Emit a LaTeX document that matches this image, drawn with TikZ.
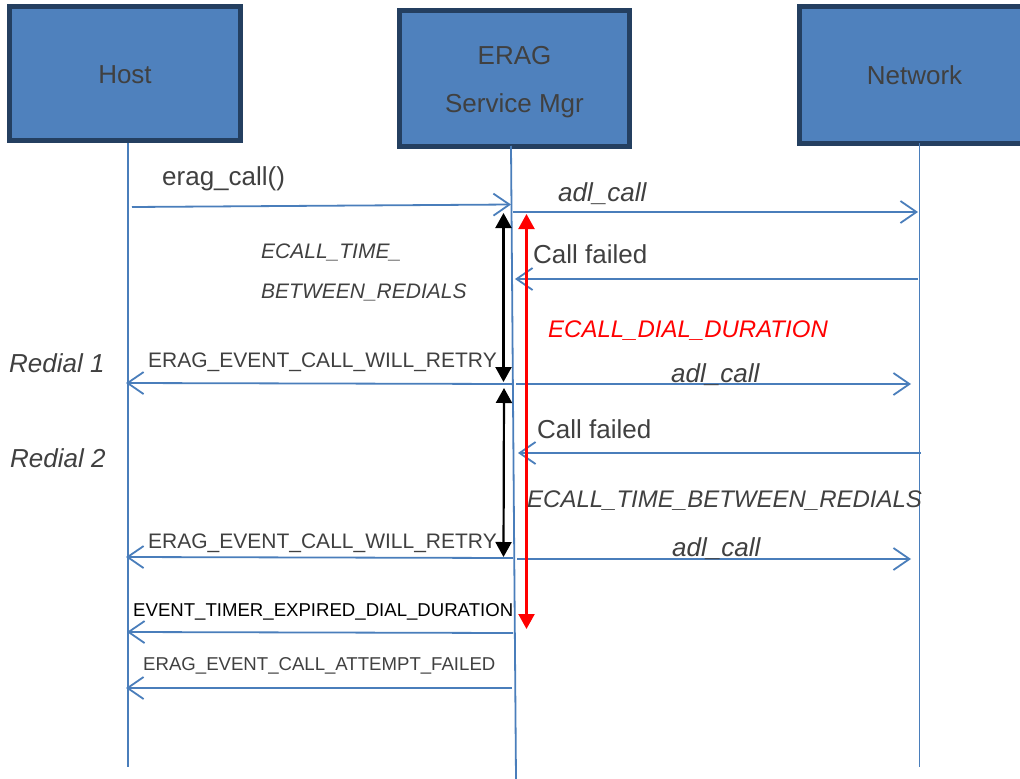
\documentclass[tikz,border=0pt]{standalone}
\usepackage{fontspec}
\setmainfont{Liberation Sans}
\usetikzlibrary{arrows.meta}
\definecolor{boxfill}{RGB}{79,129,189}
\definecolor{boxline}{RGB}{36,63,96}
\definecolor{wire}{RGB}{74,126,187}
\definecolor{txtgray}{RGB}{64,64,64}
\tikzset{
  actor/.style={draw=boxline, line width=5pt, fill=boxfill, inner sep=0pt},
  actorname/.style={inner sep=0pt, anchor=base, text=txtgray, font=\fontsize{26}{30}\selectfont},
  lifeline/.style={draw=wire, line width=1.8pt},
  msg/.style={draw=wire, line width=1.8pt, -{Straight Barb[length=16pt,width=22pt,line width=1.8pt]}},
  span/.style={line width=2.2pt, {Triangle[length=15pt,width=16pt]}-{Triangle[length=15pt,width=16pt]}},
  lbl/.style={inner sep=0pt, anchor=base west, text=txtgray, font=\fontsize{26}{30}\selectfont},
  lblit/.style={lbl, font=\fontsize{26}{30}\selectfont\itshape},
  evt/.style={lbl, font=\fontsize{21}{25}\selectfont},
  evtsmall/.style={lbl, font=\fontsize{18.6}{22}\selectfont},
}
\begin{document}
\begin{tikzpicture}[x=1pt,y=-1pt]
\useasboundingbox (0,0) rectangle (1020,779);

% participants
\node[actor, minimum width=231pt, minimum height=134pt] (host) at (125,73.5) {};
\node[actor, minimum width=230pt, minimum height=136pt] (erag) at (514.5,78.5) {};
\node[actor, minimum width=230pt, minimum height=137pt] (net) at (914.5,75) {};
\node[actorname] (hostname) at (125,83.5) {Host};
\node[actorname] (eragname1) at (514.5,64.5) {ERAG};
\node[actorname] (eragname2) at (514.5,112) {Service Mgr};
\node[actorname] (netname) at (914.5,84) {Network};

% lifelines
\coordinate (hostEnd) at (128,767);
\coordinate (eragTop) at (511,146);
\coordinate (eragEnd) at (516,779);
\coordinate (netTop) at (919.5,143);
\coordinate (netEnd) at (919.5,767);
\draw[lifeline] (host.south -| hostEnd) -- (hostEnd);
\draw[lifeline] (eragTop) -- (eragEnd);
\draw[lifeline] (netTop) -- (netEnd);

% message end points
\coordinate (m1a) at (132,207);   \coordinate (m1b) at (511,204.5);
\coordinate (m2a) at (513,212);   \coordinate (m2b) at (918,212);
\coordinate (m3a) at (918,279);   \coordinate (m3b) at (515,279);
\coordinate (m4a) at (512,384);   \coordinate (m4b) at (126,383);
\coordinate (m5a) at (516,384);   \coordinate (m5b) at (911,384);
\coordinate (m6a) at (921,453);   \coordinate (m6b) at (518,453);
\coordinate (m7a) at (513,558);   \coordinate (m7b) at (126,557);
\coordinate (m8a) at (517,559);   \coordinate (m8b) at (911,559);
\coordinate (m9a) at (513,633);   \coordinate (m9b) at (127,632);
\coordinate (m10a) at (512,688);  \coordinate (m10b) at (126,688);

\draw[msg] (m1a) -- (m1b);
\draw[msg] (m2a) -- (m2b);
\draw[msg] (m3a) -- (m3b);
\draw[msg] (m4a) -- (m4b);
\draw[msg] (m5a) -- (m5b);
\draw[msg] (m6a) -- (m6b);
\draw[msg] (m7a) -- (m7b);
\draw[msg] (m8a) -- (m8b);
\draw[msg] (m9a) -- (m9b);
\draw[msg] (m10a) -- (m10b);

% timers
\coordinate (t1a) at (503.5,213); \coordinate (t1b) at (503.5,382);
\coordinate (t2a) at (504,388);   \coordinate (t2b) at (503.5,557);
\coordinate (d1a) at (526.5,214); \coordinate (d1b) at (526.5,629);
\draw[span, black] (t1a) -- (t1b);
\draw[span, black] (t2a) -- (t2b);
\draw[span, red] (d1a) -- (d1b);

% labels
\node[lbl] (l1) at (162,185) {erag\_call()};
\node[lblit] (l2) at (558,201) {adl\_call};
\node[lbl] (l3) at (533,263) {Call failed};
\node[evt, font=\fontsize{21}{25}\selectfont\itshape] (l4) at (261,258) {ECALL\_TIME\_};
\node[evt, font=\fontsize{21}{25}\selectfont\itshape] (l5) at (261,298) {BETWEEN\_REDIALS};
\node[lblit, text=red, font=\fontsize{24}{28}\selectfont\itshape] (l6) at (548,337) {ECALL\_DIAL\_DURATION};
\node[lblit] (r1) at (9,372) {Redial 1};
\node[evt] (l7) at (148,367) {ERAG\_EVENT\_CALL\_WILL\_RETRY};
\node[lblit] (l8) at (671,382) {adl\_call};
\node[lbl] (l9) at (537,438) {Call failed};
\node[lblit] (r2) at (10,467) {Redial 2};
\node[lblit, font=\fontsize{24}{28}\selectfont\itshape] (l10) at (527,507) {ECALL\_TIME\_BETWEEN\_REDIALS};
\node[evt] (l11) at (148,548) {ERAG\_EVENT\_CALL\_WILL\_RETRY};
\node[lblit] (l12) at (672,556) {adl\_call};
\node[evtsmall, text=black] (l13) at (133,616) {EVENT\_TIMER\_EXPIRED\_DIAL\_DURATION};
\node[evtsmall] (l14) at (143,670) {ERAG\_EVENT\_CALL\_ATTEMPT\_FAILED};
\end{tikzpicture}
\end{document}
